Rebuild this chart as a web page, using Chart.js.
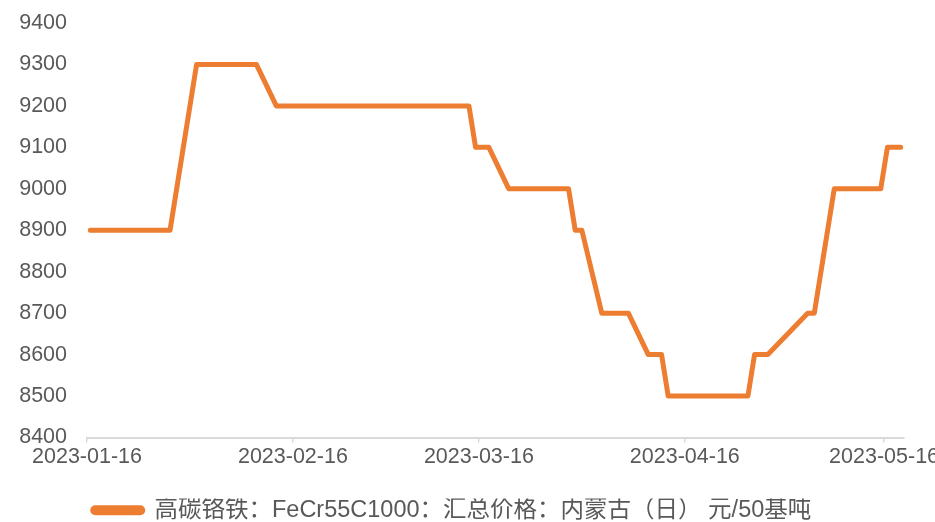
<!DOCTYPE html>
<html>
<head>
<meta charset="utf-8">
<script src="https://cdn.jsdelivr.net/npm/chart.js@4/dist/chart.umd.min.js"></script>
<style>
  html, body { margin: 0; padding: 0; background: #fff; }
  #wrap { width: 935px; height: 522px; }
</style>
</head>
<body>
<div id="wrap"><canvas id="chart" width="935" height="522"></canvas></div>
<script>
/* ---------- Data ---------- */
const seriesName = "高碳铬铁：FeCr55C1000：汇总价格：内蒙古（日） 元/50基吨";
const priceDates = [
  "2023-01-16", "2023-01-28", "2023-02-01", "2023-02-10", "2023-02-13",
  "2023-03-14", "2023-03-15", "2023-03-17", "2023-03-20", "2023-03-29",
  "2023-03-30", "2023-03-31", "2023-04-03", "2023-04-07", "2023-04-10",
  "2023-04-12", "2023-04-13", "2023-04-25", "2023-04-26", "2023-04-28",
  "2023-05-04", "2023-05-05", "2023-05-08", "2023-05-15", "2023-05-16",
  "2023-05-18"
];
const priceValues = [
  8900, 8900, 9300, 9300, 9200,
  9200, 9100, 9100, 9000, 9000,
  8900, 8900, 8700, 8700, 8600,
  8600, 8500, 8500, 8600, 8600,
  8700, 8700, 9000, 9000, 9100,
  9100
];
const xTickLabels = ["2023-01-16", "2023-02-16", "2023-03-16", "2023-04-16", "2023-05-16"];
const yMin = 8400, yMax = 9400, yStep = 100;

/* ---------- Helpers ---------- */
const DAY = 86400000;
const firstDate = priceDates[0];
const lastDate = priceDates[priceDates.length - 1];
const dayOf = (s) => Math.round((Date.parse(s + "T00:00:00Z") - Date.parse(firstDate + "T00:00:00Z")) / DAY);
// date axis "between tick marks": each day is a slot, the point sits in the middle of it
const slotCenter = (s) => dayOf(s) + 0.5;
const xTickDays = xTickLabels.map(dayOf);

const GREY_TEXT = "#595959";
const AXIS_GREY = "#d9d9d9";
const ORANGE = "#ED7D31";
const LATIN = "'Liberation Sans', Arial, 'Noto Sans CJK SC', sans-serif";

/* ---------- Chart ---------- */
new Chart(document.getElementById("chart").getContext("2d"), {
  type: "line",
  data: {
    datasets: [{
      label: seriesName,
      data: priceDates.map((d, i) => ({ x: slotCenter(d), y: priceValues[i] })),
      borderColor: ORANGE,
      backgroundColor: ORANGE,
      borderWidth: 5,
      pointRadius: 0,
      tension: 0,
      borderJoinStyle: "round",
      borderCapStyle: "round",
      fill: false
    }]
  },
  options: {
    responsive: false,
    animation: false,
    layout: { padding: { left: 0, right: 31, top: 23, bottom: -10 } },
    scales: {
      x: {
        type: "linear",
        min: 0,
        max: dayOf(lastDate) + 1,
        afterBuildTicks: (s) => { s.ticks = xTickDays.map(v => ({ value: v })); },
        afterFit: (s) => { s.height = 61; s.paddingLeft = 0; s.paddingRight = 0; },
        grid: { drawOnChartArea: false, drawTicks: true, tickLength: 5, color: AXIS_GREY, lineWidth: 1.5 },
        border: { display: true, color: AXIS_GREY, width: 2 },
        ticks: {
          autoSkip: false,
          maxRotation: 0,
          padding: 2,
          color: GREY_TEXT,
          font: { family: LATIN, size: 21.5 },
          callback: (v) => {
            const i = xTickDays.indexOf(v);
            return i >= 0 ? xTickLabels[i] : "";
          }
        }
      },
      y: {
        min: yMin,
        max: yMax,
        afterFit: (s) => { s.width = 87; s.paddingTop = 0; s.paddingBottom = 0; },
        grid: { display: false, drawTicks: false },
        border: { display: false },
        ticks: {
          stepSize: yStep,
          padding: 20,
          color: GREY_TEXT,
          font: { family: LATIN, size: 21.5 },
          callback: (v) => String(v)
        }
      }
    },
    plugins: {
      legend: {
        position: "bottom",
        align: "center",
        labels: {
          padding: 0,
          boxWidth: 50,
          boxHeight: 5,
          useBorderRadius: true,
          borderRadius: 2.5,
          color: GREY_TEXT,
          font: { family: LATIN, size: 23.5 }
        }
      },
      tooltip: { enabled: false }
    }
  }
});
</script>
</body>
</html>
